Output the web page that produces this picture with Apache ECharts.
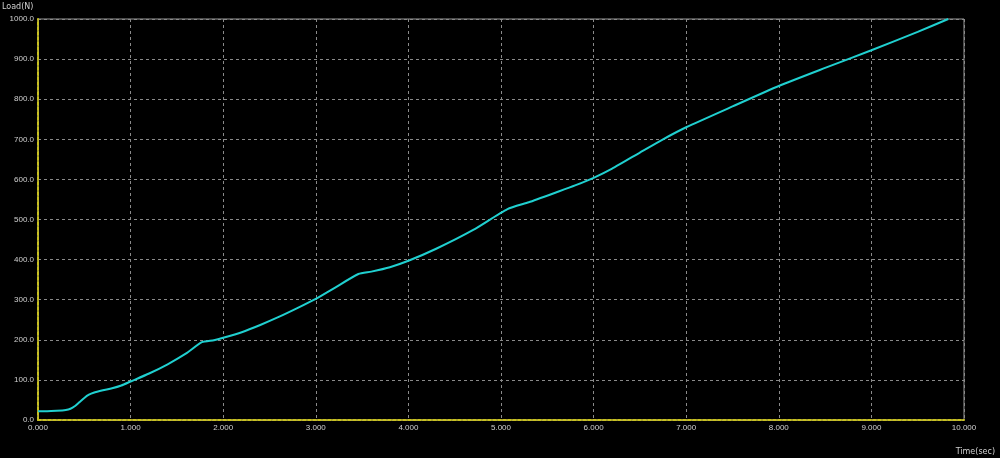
<!DOCTYPE html>
<html>
<head>
<meta charset="utf-8">
<script src="https://cdn.jsdelivr.net/npm/echarts@6/dist/echarts.min.js"></script>
<style>html,body{margin:0;padding:0;background:#000;}#c{width:1000px;height:458px;}</style>
</head>
<body>
<div id="c"></div>
<script>
const timeSec = [0, 0.1, 0.2, 0.3, 0.35, 0.4, 0.45, 0.5, 0.55, 0.6, 0.7, 0.8, 0.9, 1.0, 1.2, 1.4, 1.6, 1.77, 1.9, 2.0, 2.2, 2.4, 2.6, 2.8, 3.0, 3.2, 3.46, 3.6, 3.8, 4.0, 4.3, 4.7, 5.07, 5.3, 5.6, 5.8, 6.0, 6.2, 6.5, 6.75, 7.0, 7.5, 8.0, 8.5, 9.0, 9.5, 9.83];
const loadN = [22, 22, 23, 25, 28, 35, 45, 55, 63, 68, 74, 79, 86, 96, 116, 139, 166, 194, 199, 205, 219, 237, 257, 279, 302, 329, 364, 370, 381, 397, 427, 474, 526, 543, 568, 585, 604, 627, 667, 700, 730, 782, 833, 878, 922, 968, 1000];
const xAxisName = 'Time(sec)';
const yAxisName = 'Load(N)';

const chart = echarts.init(document.getElementById('c'));
const labelColor = '#d0d0d0';
chart.setOption({
  backgroundColor: '#000',
  animation: false,
  grid: { left: 38, right: 36, top: 19, bottom: 38, show: true, borderColor: '#9a9a9a', borderWidth: 1 },
  graphic: [
    { type: 'text', left: 2, top: 3, style: { text: yAxisName, fill: labelColor, font: '8px "DejaVu Sans", sans-serif' } },
    { type: 'text', right: 5, top: 448, style: { text: xAxisName, fill: labelColor, font: '8px "DejaVu Sans", sans-serif' } }
  ],
  xAxis: {
    type: 'value', min: 0, max: 10, interval: 1,
    axisLine: { show: true, onZero: false, lineStyle: { color: '#c8c020', width: 2, type: [3, 2] } },
    axisTick: { show: false },
    axisLabel: { color: labelColor, fontSize: 8, margin: 4, formatter: v => v.toFixed(3) },
    splitLine: { show: true, lineStyle: { color: '#8a8a8a', width: 1, type: [3, 3] } }
  },
  yAxis: {
    type: 'value', min: 0, max: 1000, interval: 100,
    axisLine: { show: true, onZero: false, lineStyle: { color: '#c8c020', width: 2, type: [3, 2] } },
    axisTick: { show: false },
    axisLabel: { color: labelColor, fontSize: 8, margin: 4, formatter: v => v.toFixed(1) },
    splitLine: { show: true, lineStyle: { color: '#8a8a8a', width: 1, type: [3, 3] } }
  },
  series: [{
    type: 'line',
    data: timeSec.map((t, i) => [t, loadN[i]]),
    showSymbol: false,
    smooth: 0.2,
    lineStyle: { color: '#20d0d0', width: 2 },
    z: 5
  }]
});
</script>
</body>
</html>
